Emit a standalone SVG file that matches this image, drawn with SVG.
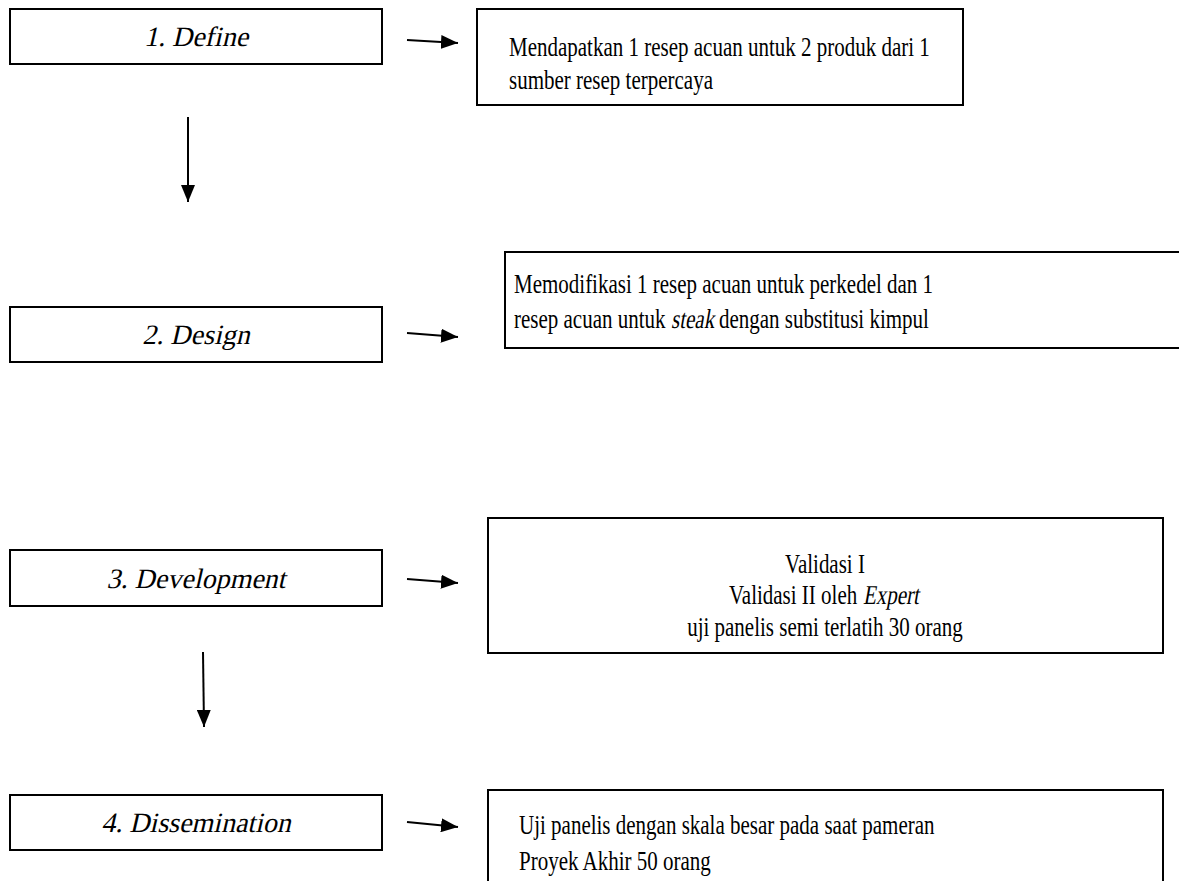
<svg xmlns="http://www.w3.org/2000/svg" width="1179" height="881" viewBox="0 0 1179 881">
<style>
.box{fill:#fff;stroke:#000;stroke-width:2}
.lbl{font-family:'Liberation Serif',serif;font-size:28px;fill:#000;text-anchor:middle}
.txt{font-family:'Liberation Serif',serif;font-size:21px;fill:#000}
.ctr{text-anchor:middle}
.conn{stroke:#000;stroke-width:2;fill:none}
</style>
<defs>
<marker id="ah" markerUnits="userSpaceOnUse" markerWidth="18" markerHeight="14" refX="17" refY="7" orient="auto">
<path d="M0,0 L17,7 L0,14 Z" fill="#000"/>
</marker>
</defs>
<rect width="1179" height="881" fill="#fff"/>
<g id="define">
<rect class="box" x="10" y="9" width="372" height="55"/>
<text class="lbl" transform="translate(196,46) skewX(-13)">1. Define</text>
</g>
<g id="define-out">
<rect class="box" x="477" y="9" width="486" height="96"/>
<text class="txt" transform="translate(509,56) scale(1,1.3)">Mendapatkan 1 resep acuan untuk 2 produk dari 1</text>
<text class="txt" transform="translate(509,89) scale(1,1.3)">sumber resep terpercaya</text>
</g>
<g id="design">
<rect class="box" x="10" y="307" width="372" height="55"/>
<text class="lbl" transform="translate(196,344) skewX(-13)">2. Design</text>
</g>
<g id="design-out">
<rect class="box" x="505" y="252" width="690" height="96"/>
<text class="txt" transform="translate(514,293) scale(1,1.3)">Memodifikasi 1 resep acuan untuk perkedel dan 1</text>
<text class="txt" transform="translate(514,328) scale(1,1.3)">resep acuan untuk</text>
<text class="txt" transform="translate(671,328) scale(1,1.3) skewX(-13)">steak</text>
<text class="txt" transform="translate(719,328) scale(1,1.3)">dengan substitusi kimpul</text>
</g>
<g id="development">
<rect class="box" x="10" y="550" width="372" height="56"/>
<text class="lbl" transform="translate(196,588) skewX(-13)">3. Development</text>
</g>
<g id="development-out">
<rect class="box" x="488" y="518" width="675" height="135"/>
<text class="txt ctr" transform="translate(825,573) scale(1,1.3)">Validasi I</text>
<text class="txt" transform="translate(729,604) scale(1,1.3)">Validasi II oleh</text>
<text class="txt" transform="translate(863,604) scale(1,1.3) skewX(-13)">Expert</text>
<text class="txt ctr" transform="translate(825,636) scale(1,1.3)">uji panelis semi terlatih 30 orang</text>
</g>
<g id="dissemination">
<rect class="box" x="10" y="795" width="372" height="55"/>
<text class="lbl" transform="translate(196,832) skewX(-13)">4. Dissemination</text>
</g>
<g id="dissemination-out">
<rect class="box" x="488" y="790" width="675" height="110"/>
<text class="txt" transform="translate(519,834) scale(1,1.3)">Uji panelis dengan skala besar pada saat pameran</text>
<text class="txt" transform="translate(519,870) scale(1,1.3)">Proyek Akhir 50 orang</text>
</g>
<g id="connectors">
<line class="conn" x1="407" y1="40" x2="458" y2="43" marker-end="url(#ah)"/>
<line class="conn" x1="188" y1="117" x2="188" y2="202" marker-end="url(#ah)"/>
<line class="conn" x1="407" y1="333" x2="458" y2="337" marker-end="url(#ah)"/>
<line class="conn" x1="407" y1="579" x2="458" y2="583" marker-end="url(#ah)"/>
<line class="conn" x1="203" y1="652" x2="204" y2="727" marker-end="url(#ah)"/>
<line class="conn" x1="407" y1="822" x2="458" y2="827" marker-end="url(#ah)"/>
</g>
</svg>
